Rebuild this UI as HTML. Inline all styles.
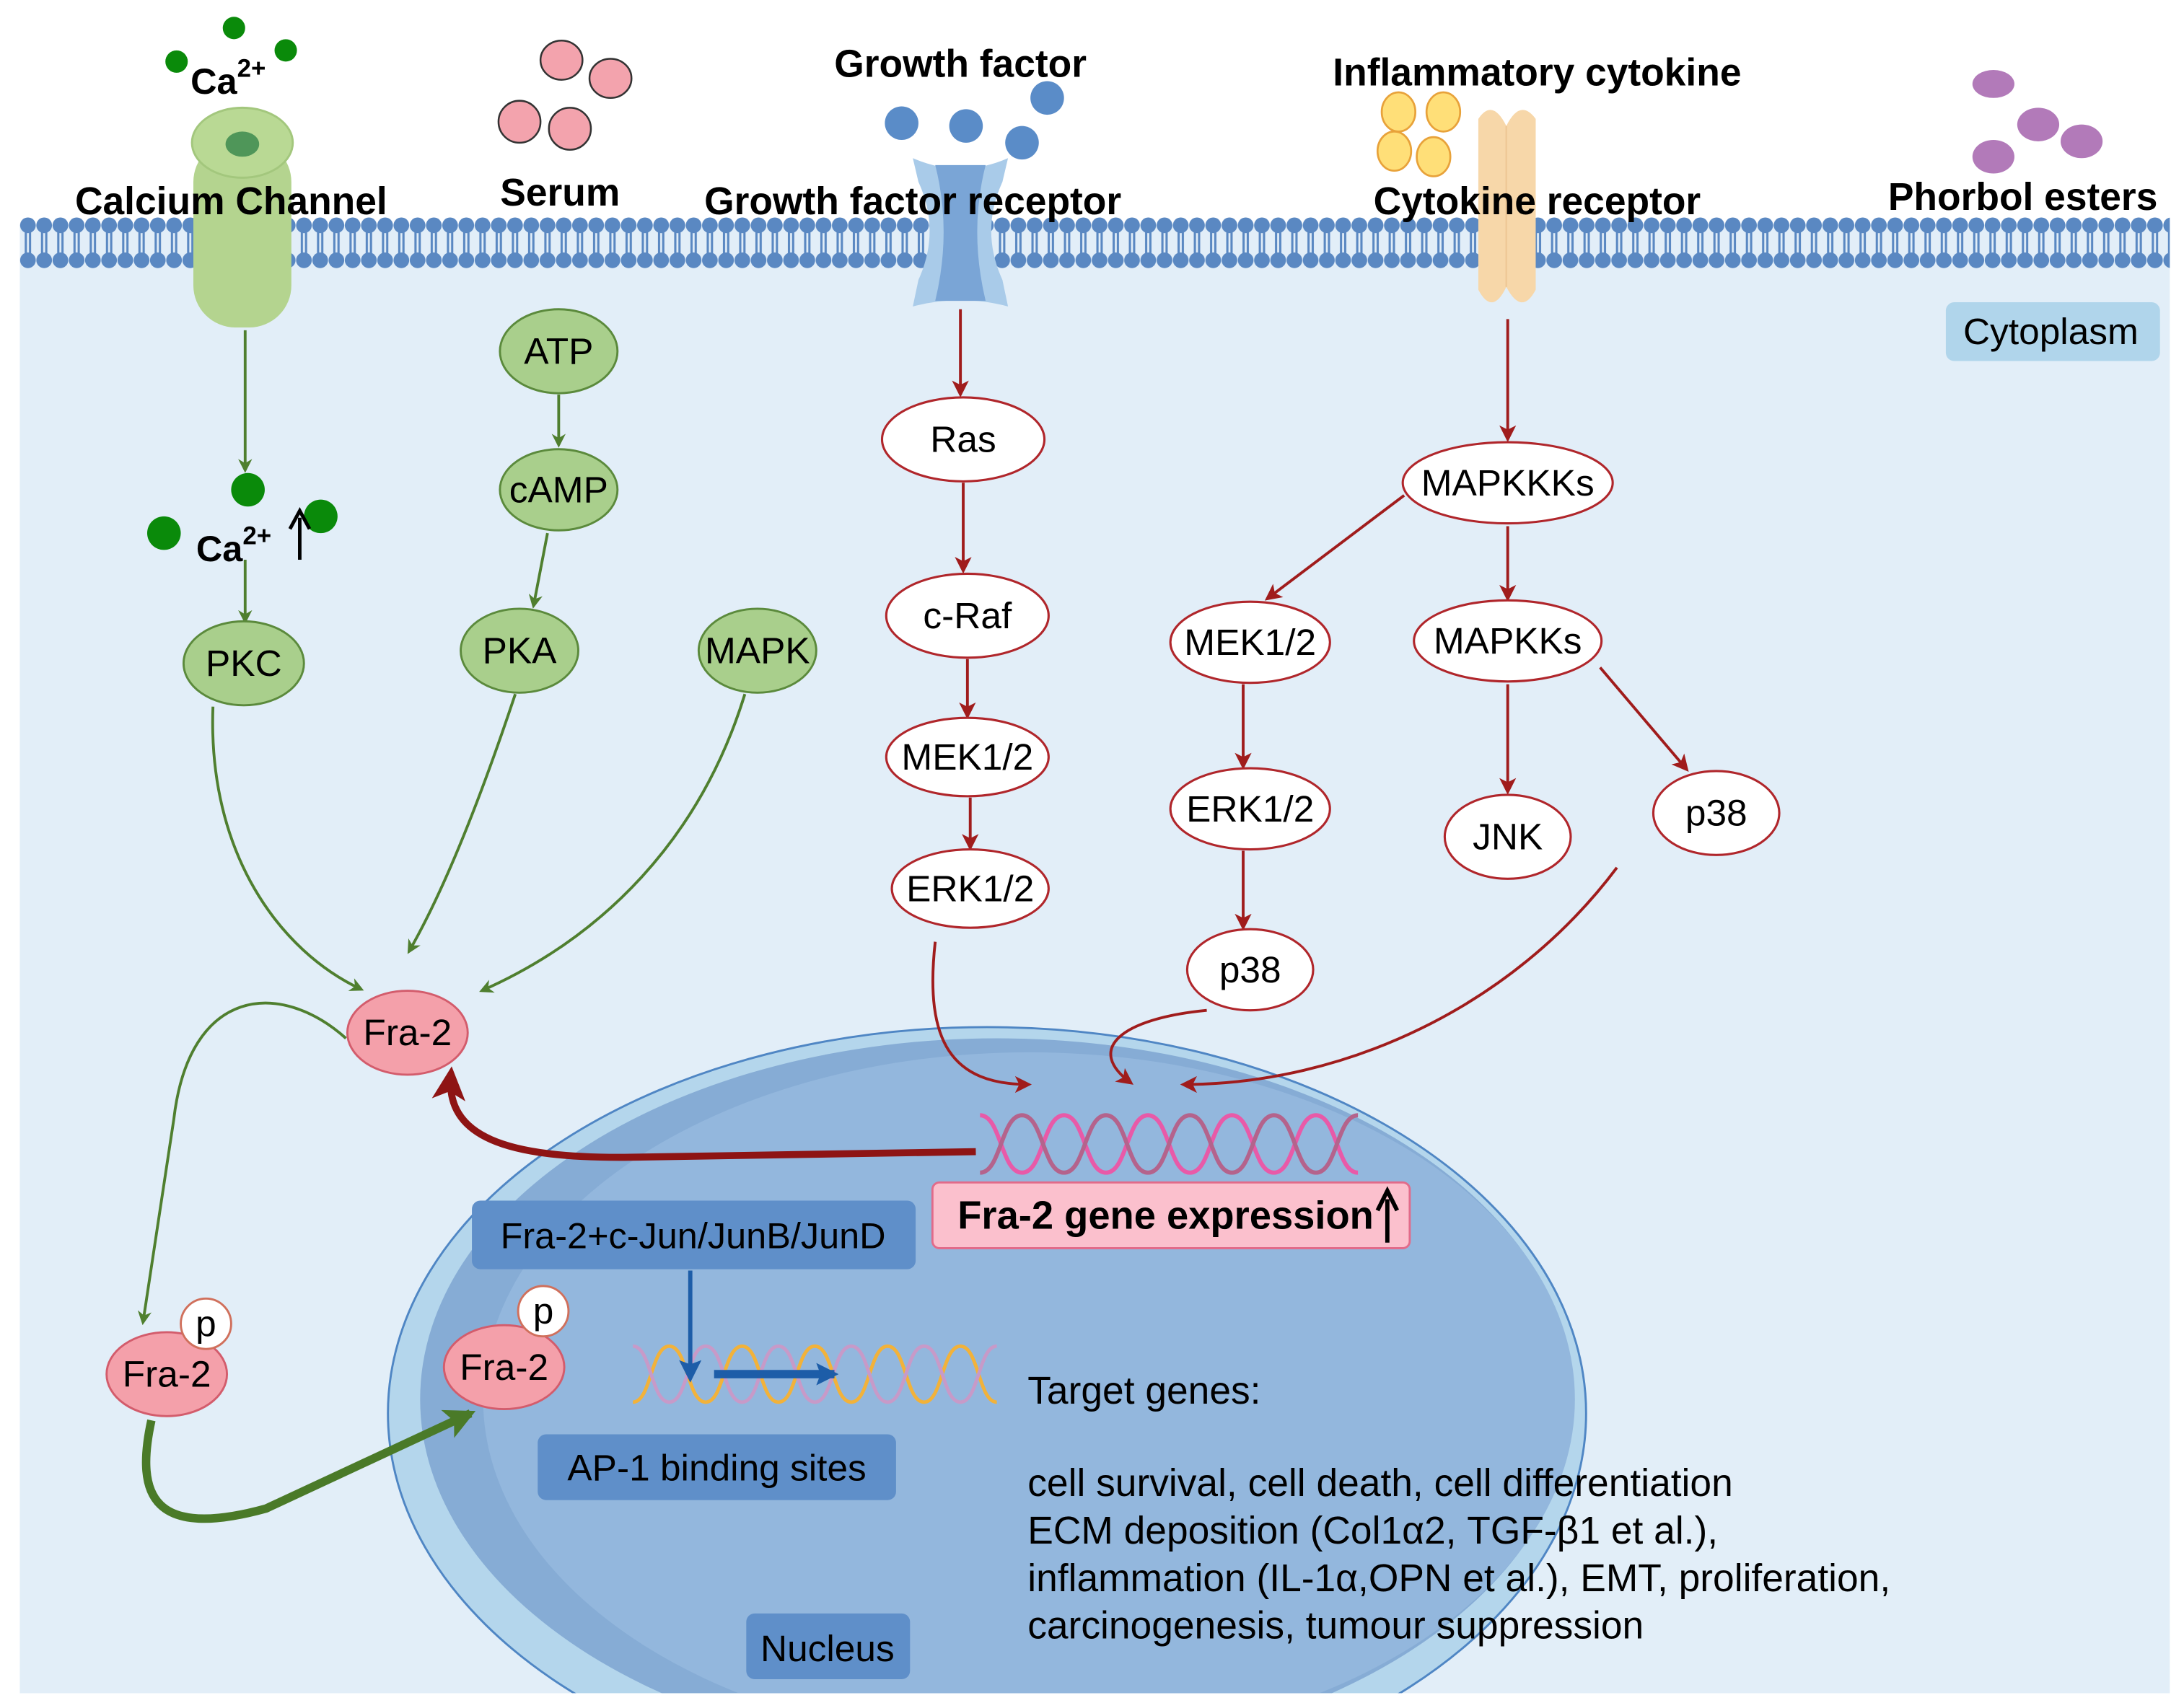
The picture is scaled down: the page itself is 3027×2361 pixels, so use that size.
<!DOCTYPE html>
<html><head><meta charset="utf-8"><style>
html,body{margin:0;padding:0;background:#fff;width:3027px;height:2361px;overflow:hidden;}
svg{display:block;}
text{font-family:"Liberation Sans",Arial,sans-serif;}
</style></head><body>
<svg width="3027" height="2361" viewBox="0 0 1560 1217" xmlns="http://www.w3.org/2000/svg">
<defs>
<pattern id="mem" x="14" y="0" width="11.6" height="1217" patternUnits="userSpaceOnUse">
<line x1="4.3" y1="163" x2="4.3" y2="184" stroke="#5a88c2" stroke-width="1.6"/>
<line x1="7.3" y1="163" x2="7.3" y2="184" stroke="#5a88c2" stroke-width="1.6"/>
<circle cx="5.8" cy="161" r="5.6" fill="#5a88c2"/>
<circle cx="5.8" cy="186" r="5.6" fill="#5a88c2"/>
</pattern>
<marker id="ag" markerWidth="10" markerHeight="10" refX="8" refY="5" orient="auto" markerUnits="userSpaceOnUse"><path d="M0,0 L10,5 L0,10 L3,5 Z" fill="#4f7f2f"/></marker>
<marker id="agb" markerWidth="22" markerHeight="22" refX="18" refY="11" orient="auto" markerUnits="userSpaceOnUse"><path d="M0,0 L22,11 L0,22 L5,11 Z" fill="#4a7a28"/></marker>
<marker id="ar" markerWidth="12" markerHeight="12" refX="10" refY="6" orient="auto" markerUnits="userSpaceOnUse"><path d="M0,0 L12,6 L0,12 L3,6 Z" fill="#a01c1c"/></marker>
<marker id="arb" markerWidth="24" markerHeight="24" refX="18" refY="12" orient="auto" markerUnits="userSpaceOnUse"><path d="M0,0 L24,12 L0,24 L6,12 Z" fill="#8e1414"/></marker>
<marker id="ab" markerWidth="16" markerHeight="16" refX="13" refY="8" orient="auto" markerUnits="userSpaceOnUse"><path d="M0,0 L16,8 L0,16 L3,8 Z" fill="#1d5da8"/></marker>
<clipPath id="cyt"><rect x="14" y="0" width="1536" height="1210"/></clipPath>
</defs>

<rect x="14" y="160" width="1536" height="1050" fill="#e2eef8"/>
<rect x="14" y="150" width="1536" height="45" fill="url(#mem)"/>

<g clip-path="url(#cyt)">
<ellipse cx="705" cy="1010" rx="428" ry="276" fill="#b4d6ec" stroke="#4f86c4" stroke-width="1.5"/>
<ellipse cx="712" cy="1000" rx="412" ry="258" fill="#86acd5"/>
<ellipse cx="735" cy="1000" rx="390" ry="248" fill="#93b7dd"/>
</g>

<circle cx="167" cy="20" r="8" fill="#0a8a0a"/>
<circle cx="126" cy="44" r="8" fill="#0a8a0a"/>
<circle cx="204" cy="36" r="8" fill="#0a8a0a"/>
<text x="136" y="67" font-size="26" font-weight="bold">Ca<tspan dy="-12" font-size="18">2+</tspan></text>

<rect x="138" y="100" width="70" height="134" rx="30" fill="#b4d48f"/>
<ellipse cx="173" cy="102" rx="36" ry="25" fill="#b9d994" stroke="#a3c77d" stroke-width="1.5"/>
<ellipse cx="173" cy="103" rx="12" ry="9" fill="#4f9659"/>
<text x="165" y="153" font-size="27.5" font-weight="bold" text-anchor="middle">Calcium Channel</text>

<g fill="#f3a3ad" stroke="#333" stroke-width="1.3">
<ellipse cx="401" cy="43" rx="15" ry="14"/>
<ellipse cx="436" cy="56" rx="15" ry="14"/>
<ellipse cx="371" cy="87" rx="15" ry="15"/>
<ellipse cx="407" cy="92" rx="15" ry="15"/>
</g>
<text x="400" y="147" font-size="27.5" font-weight="bold" text-anchor="middle">Serum</text>

<text x="686" y="55" font-size="27.5" font-weight="bold" text-anchor="middle">Growth factor</text>
<g fill="#5a8cc8">
<circle cx="644" cy="88" r="12"/><circle cx="690" cy="90" r="12"/><circle cx="730" cy="102" r="12"/><circle cx="748" cy="70" r="12"/>
</g>
<path d="M652,113 Q686,128 720,113 L716,130 Q700,165 716,200 L720,219 Q686,210 652,219 L656,200 Q672,165 656,130 Z" fill="#a9cbe9"/>
<path d="M668,118 L704,118 Q692,165 704,215 L668,215 Q680,165 668,118 Z" fill="#7aa5d6"/>
<text x="652" y="153" font-size="27.5" font-weight="bold" text-anchor="middle">Growth factor receptor</text>

<text x="1098" y="61" font-size="27.5" font-weight="bold" text-anchor="middle">Inflammatory cytokine</text>
<g fill="#ffdf78" stroke="#e8a23a" stroke-width="1.4">
<ellipse cx="999" cy="80" rx="12" ry="14"/><ellipse cx="1031" cy="80" rx="12" ry="14"/>
<ellipse cx="996" cy="108" rx="12" ry="14"/><ellipse cx="1024" cy="112" rx="12" ry="14"/>
</g>
<path d="M1056,85 Q1066,70 1076,90 Q1086,70 1097,85 L1097,207 Q1087,226 1076,205 Q1066,226 1056,207 Z" fill="#f7d7a9"/>
<line x1="1076" y1="90" x2="1076" y2="205" stroke="#efc896" stroke-width="1.2"/>
<text x="1098" y="153" font-size="27.5" font-weight="bold" text-anchor="middle">Cytokine receptor</text>

<g fill="#b27ab9">
<ellipse cx="1424" cy="60" rx="15" ry="10"/>
<ellipse cx="1456" cy="89" rx="15" ry="12"/>
<ellipse cx="1487" cy="101" rx="15" ry="12"/>
<ellipse cx="1424" cy="112" rx="15" ry="12"/>
</g>
<text x="1445" y="150" font-size="27.5" font-weight="bold" text-anchor="middle">Phorbol esters</text>

<rect x="1390" y="216" width="153" height="42" rx="6" fill="#b0d5eb"/>
<text x="1465" y="246" font-size="26.5" text-anchor="middle">Cytoplasm</text>

<g stroke="#4f7f2f" stroke-width="2" fill="none" marker-end="url(#ag)">
<path d="M175,236 L175,336"/>
<path d="M399,282 L399,318"/>
<path d="M391,381 L381,433"/>
<path d="M175,400 L175,444"/>
<path d="M152,505 C148,610 200,680 258,707"/>
<path d="M368,496 C340,580 315,640 292,680"/>
<path d="M532,496 C500,600 430,670 344,708"/>
<path d="M247,742 C200,700 135,705 124,800 L102,945"/>
</g>
<path d="M108,1015 C96,1070 110,1100 190,1078 L336,1010" stroke="#4a7a28" stroke-width="6" fill="none" marker-end="url(#agb)"/>

<circle cx="177" cy="350" r="12" fill="#0a8a0a"/>
<circle cx="117" cy="381" r="12" fill="#0a8a0a"/>
<circle cx="229" cy="369" r="12" fill="#0a8a0a"/>
<text x="140" y="401" font-size="26" font-weight="bold">Ca<tspan dy="-12" font-size="18">2+</tspan></text>
<line x1="214" y1="400" x2="214" y2="370" stroke="#000" stroke-width="2.5"/>
<path d="M207,378 L214,365 L221,378" stroke="#000" stroke-width="2.5" fill="none"/>

<g fill="#a9cf8c" stroke="#5b8a3c" stroke-width="1.5">
<ellipse cx="399" cy="251" rx="42" ry="30"/>
<ellipse cx="399" cy="350" rx="42" ry="29"/>
<ellipse cx="174" cy="474" rx="43" ry="30"/>
<ellipse cx="371" cy="465" rx="42" ry="30"/>
<ellipse cx="541" cy="465" rx="42" ry="30"/>
</g>
<g font-size="26.5" text-anchor="middle">
<text x="399" y="260">ATP</text>
<text x="399" y="359">cAMP</text>
<text x="174" y="483">PKC</text>
<text x="371" y="474">PKA</text>
<text x="541" y="474">MAPK</text>
</g>

<g stroke="#a01c1c" stroke-width="2" fill="none" marker-end="url(#ar)">
<path d="M686,221 L686,282"/>
<path d="M688,345 L688,408"/>
<path d="M691,471 L691,512"/>
<path d="M693,570 L693,606"/>
<path d="M1077,228 L1077,314"/>
<path d="M1003,354 L905,428"/>
<path d="M1077,376 L1077,428"/>
<path d="M1077,489 L1077,566"/>
<path d="M1143,477 L1205,550"/>
<path d="M888,489 L888,548"/>
<path d="M888,608 L888,663"/>
<path d="M668,673 C660,745 680,775 735,775"/>
<path d="M862,722 C800,728 775,750 808,774"/>
<path d="M1155,620 C1080,720 960,775 845,775"/>
</g>

<g fill="#fff" stroke="#b0262b" stroke-width="1.6">
<ellipse cx="688" cy="314" rx="58" ry="30"/>
<ellipse cx="691" cy="440" rx="58" ry="30"/>
<ellipse cx="691" cy="541" rx="58" ry="28"/>
<ellipse cx="693" cy="635" rx="56" ry="28"/>
<ellipse cx="1077" cy="345" rx="75" ry="29"/>
<ellipse cx="893" cy="459" rx="57" ry="29"/>
<ellipse cx="1077" cy="458" rx="67" ry="29"/>
<ellipse cx="893" cy="578" rx="57" ry="29"/>
<ellipse cx="1077" cy="598" rx="45" ry="30"/>
<ellipse cx="1226" cy="581" rx="45" ry="30"/>
<ellipse cx="893" cy="693" rx="45" ry="29"/>
</g>
<g font-size="26.5" text-anchor="middle">
<text x="688" y="323">Ras</text>
<text x="691" y="449">c-Raf</text>
<text x="691" y="550">MEK1/2</text>
<text x="693" y="644">ERK1/2</text>
<text x="1077" y="354">MAPKKKs</text>
<text x="893" y="468">MEK1/2</text>
<text x="1077" y="467">MAPKKs</text>
<text x="893" y="587">ERK1/2</text>
<text x="1077" y="607">JNK</text>
<text x="1226" y="590">p38</text>
<text x="893" y="702">p38</text>
</g>

<g fill="none" stroke-width="3">
<path d="M700,797 C715,797 715,838 730,838 C745,838 745,797 760,797 C775,797 775,838 790,838 C805,838 805,797 820,797 C835,797 835,838 850,838 C865,838 865,797 880,797 C895,797 895,838 910,838 C925,838 925,797 940,797 C955,797 955,838 970,838" stroke="#e85aa8"/>
<path d="M700,838 C715,838 715,797 730,797 C745,797 745,838 760,838 C775,838 775,797 790,797 C805,797 805,838 820,838 C835,838 835,797 850,797 C865,797 865,838 880,838 C895,838 895,797 910,797 C925,797 925,838 940,838 C955,838 955,797 970,797" stroke="#b4638c"/>
</g>

<path d="M697,823 L450,827 C360,828 318,812 322,768" stroke="#8e1414" stroke-width="5" fill="none" marker-end="url(#arb)"/>

<rect x="666" y="845" width="341" height="47" rx="5" fill="#fbc0cd" stroke="#e26b8a" stroke-width="1.5"/>
<text x="684" y="878" font-size="28" font-weight="bold">Fra-2 gene expression</text>
<line x1="991" y1="888" x2="991" y2="857" stroke="#000" stroke-width="3"/>
<path d="M984,865 L991,851 L998,865" stroke="#000" stroke-width="3" fill="none"/>

<rect x="337" y="858" width="317" height="49" rx="6" fill="#5f8fc9"/>
<text x="495" y="892" font-size="26" text-anchor="middle">Fra-2+c-Jun/JunB/JunD</text>
<rect x="384" y="1025" width="256" height="47" rx="6" fill="#5f8fc9"/>
<text x="512" y="1058" font-size="26.5" text-anchor="middle">AP-1 binding sites</text>
<rect x="533" y="1153" width="117" height="47" rx="6" fill="#5f8fc9"/>
<text x="591" y="1187" font-size="26.5" text-anchor="middle">Nucleus</text>

<g fill="none" stroke-width="2.5">
<path d="M452,1002 C465,1002 465,962 478,962 C491,962 491,1002 504,1002 C517,1002 517,962 530,962 C543,962 543,1002 556,1002 C569,1002 569,962 582,962 C595,962 595,1002 608,1002 C621,1002 621,962 634,962 C647,962 647,1002 660,1002 C673,1002 673,962 686,962 C699,962 699,1002 712,1002" stroke="#f2b23a"/>
<path d="M452,962 C465,962 465,1002 478,1002 C491,1002 491,962 504,962 C517,962 517,1002 530,1002 C543,1002 543,962 556,962 C569,962 569,1002 582,1002 C595,1002 595,962 608,962 C621,962 621,1002 634,1002 C647,1002 647,962 660,962 C673,962 673,1002 686,1002 C699,1002 699,962 712,962" stroke="#c79ac8"/>
</g>
<path d="M493,908 L493,985" stroke="#1d5da8" stroke-width="3" fill="none" marker-end="url(#ab)"/>
<path d="M510,982 L596,982" stroke="#1d5da8" stroke-width="6" fill="none" marker-end="url(#ab)"/>

<g font-size="27.5">
<text x="734" y="1003">Target genes:</text>
<text x="734" y="1069">cell survival,  cell death, cell differentiation</text>
<text x="734" y="1103">ECM deposition (Col1α2, TGF-β1 et al.),</text>
<text x="734" y="1137">inflammation (IL-1α,OPN et al.), EMT, proliferation,</text>
<text x="734" y="1171">carcinogenesis, tumour suppression</text>
</g>

<g fill="#f4a0aa" stroke="#d35c6c" stroke-width="1.5">
<ellipse cx="291" cy="738" rx="43" ry="30"/>
<ellipse cx="119" cy="982" rx="43" ry="30"/>
<ellipse cx="360" cy="977" rx="43" ry="30"/>
</g>
<g fill="#fff" stroke="#d0705c" stroke-width="1.5">
<circle cx="147" cy="946" r="18"/>
<circle cx="388" cy="937" r="18"/>
</g>
<g font-size="26.5" text-anchor="middle">
<text x="291" y="747">Fra-2</text>
<text x="119" y="991">Fra-2</text>
<text x="360" y="986">Fra-2</text>
<text x="147" y="955">p</text>
<text x="388" y="946">p</text>
</g>
</svg>
</body></html>
